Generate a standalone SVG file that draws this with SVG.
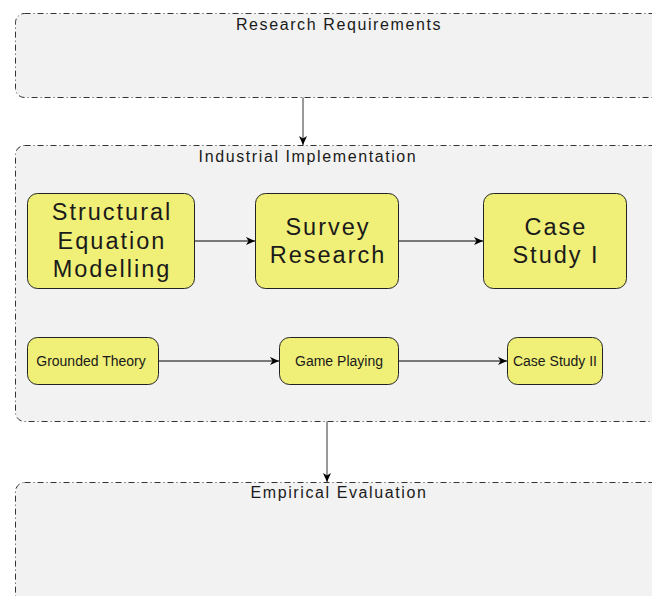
<svg xmlns="http://www.w3.org/2000/svg" width="652" height="596" viewBox="0 0 652 596">
<style>
.cont{fill:#f2f2f2;stroke:#333;stroke-width:1;stroke-dasharray:6 3 1 3}
.node{fill:#f0f078;stroke:#222;stroke-width:1}
.t{font-family:"Liberation Sans",Arial,sans-serif;fill:#1a1a1a;text-anchor:middle}
.title{font-size:16px;letter-spacing:1.6px}
.big{font-size:23.5px;letter-spacing:2px}
.small{font-size:14px}
.edge{fill:none;stroke:#000;stroke-width:1}
.vedge{fill:none;stroke:#555;stroke-width:1.2}
</style>
<defs>
<marker id="arr" markerWidth="12" markerHeight="12" refX="10" refY="6" orient="auto" markerUnits="userSpaceOnUse">
<path d="M1,2 L10,6 L1,10 L3.5,6 z" fill="#000"/>
</marker>
</defs>
<g id="research-requirements">
<rect class="cont" x="15.5" y="13.5" width="660" height="84" rx="9"/>
<text class="t title" x="339" y="30">Research Requirements</text>
</g>
<g id="industrial-implementation">
<rect class="cont" x="15.5" y="145.5" width="660" height="276" rx="9"/>
<text class="t title" x="308" y="162">Industrial Implementation</text>
</g>
<g id="empirical-evaluation">
<rect class="cont" x="15.5" y="482.5" width="660" height="140" rx="9"/>
<text class="t title" x="339" y="498">Empirical Evaluation</text>
</g>
<g id="sem">
<rect class="node" x="27.5" y="193.5" width="167" height="95" rx="10"/>
<text class="t big"><tspan x="112" y="220">Structural</tspan><tspan x="112" y="248.5">Equation</tspan><tspan x="112" y="277">Modelling</tspan></text>
</g>
<g id="survey-research">
<rect class="node" x="255.5" y="193.5" width="143" height="95" rx="10"/>
<text class="t big"><tspan x="328" y="234.5">Survey</tspan><tspan x="328" y="263">Research</tspan></text>
</g>
<g id="case-study-1">
<rect class="node" x="483.5" y="193.5" width="143" height="95" rx="10"/>
<text class="t big"><tspan x="556" y="234.5">Case</tspan><tspan x="556" y="263">Study I</tspan></text>
</g>
<g id="grounded-theory">
<rect class="node" x="27.5" y="337.5" width="131" height="47" rx="10"/>
<text class="t small" x="91" y="366">Grounded Theory</text>
</g>
<g id="game-playing">
<rect class="node" x="279.5" y="337.5" width="119" height="47" rx="10"/>
<text class="t small" x="339" y="366">Game Playing</text>
</g>
<g id="case-study-2">
<rect class="node" x="507.5" y="337.5" width="95" height="47" rx="10"/>
<text class="t small" x="555" y="366">Case Study II</text>
</g>
<g id="connectors">
<path class="vedge" d="M303,97.5 V145" marker-end="url(#arr)"/>
<path class="vedge" d="M327,421.5 V482" marker-end="url(#arr)"/>
<path class="edge" d="M195,241 H255" marker-end="url(#arr)"/>
<path class="edge" d="M399,241 H483" marker-end="url(#arr)"/>
<path class="edge" d="M159,361 H279" marker-end="url(#arr)"/>
<path class="edge" d="M399,361 H507" marker-end="url(#arr)"/>
</g>
</svg>
